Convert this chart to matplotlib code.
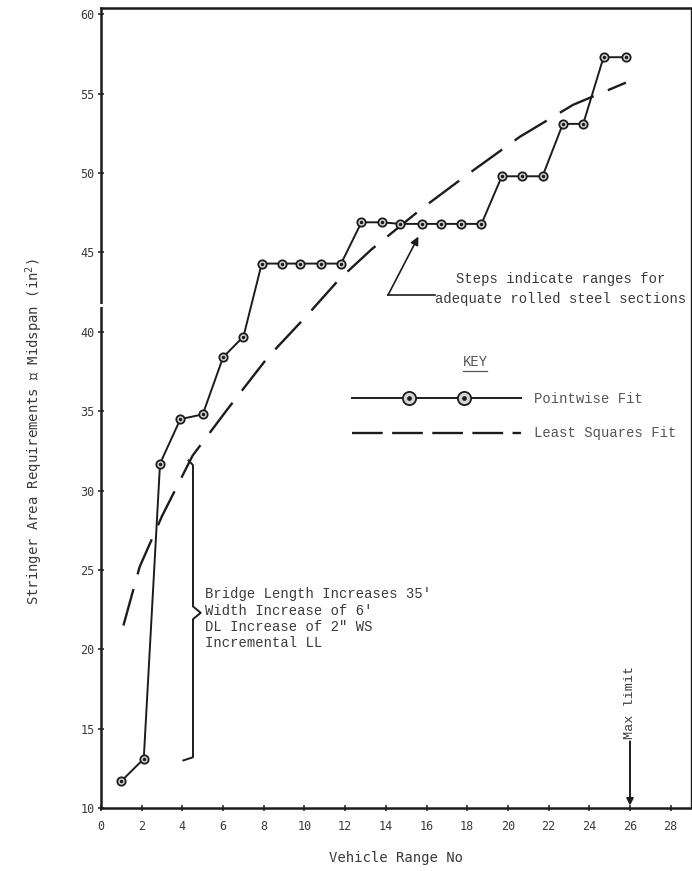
import numpy as np
import matplotlib
matplotlib.use('Agg')
import matplotlib.pyplot as plt
from matplotlib.lines import Line2D
from matplotlib.legend_handler import HandlerLine2D, HandlerTuple

# Pointwise fit: one point per vehicle range
vehicle_range = [1.0, 2.1, 2.9, 3.9, 5.0, 6.0, 7.0, 7.9, 8.9, 9.8, 10.8, 11.8, 12.8,
                 13.8, 14.7, 15.8, 16.7, 17.7, 18.7, 19.7, 20.7, 21.7, 22.7, 23.7, 24.7, 25.8]
stringer_area = [11.7, 13.1, 31.7, 34.5, 34.8, 38.4, 39.7, 44.3, 44.3, 44.3, 44.3, 44.3, 46.9,
                 46.9, 46.8, 46.8, 46.8, 46.8, 46.8, 49.8, 49.8, 49.8, 53.1, 53.1, 57.3, 57.3]

# Least squares fit
fit_range = [1.1, 1.9, 3.0, 4.5, 6.2, 8.2, 10.1, 11.7, 13.3, 15.7, 18.0, 20.6, 23.2, 25.8]
fit_area = [21.5, 25.2, 28.4, 32.2, 35.1, 38.4, 41.0, 43.3, 45.2, 47.7, 49.9, 52.3, 54.3, 55.7]

x_ticks = np.arange(0, 29, 2)
y_ticks = np.arange(10, 61, 5)

INK = '#1c1c1c'
TEXT = '#3a3a3a'
TYPE = ['Liberation Mono', 'DejaVu Sans Mono', 'DejaVu Sans']

plt.rcParams['font.family'] = ['DejaVu Sans Mono', 'DejaVu Sans']

fig = plt.figure(figsize=(6.92, 8.71), dpi=100, facecolor='white')
ax = fig.add_axes([0.146, 0.0723, 0.8526, 0.9185])

ring_style = dict(marker='o', mfc='#d4d4d4', mec=INK, mew=1.3)

ax.plot(vehicle_range, stringer_area, color=INK, lw=1.4, ms=6, zorder=3, **ring_style)
ax.plot(vehicle_range, stringer_area, ls='none', marker='o', ms=1.5, color=INK, zorder=4)
ax.plot(fit_range, fit_area, color=INK, lw=1.7, dashes=(16, 6.5), zorder=2)

ax.set_xlim(0, 29)
ax.set_ylim(10, 60.4)
ax.set_xticks(x_ticks)
ax.set_yticks(y_ticks)
ax.tick_params(direction='inout', length=5, width=1.1, color=INK, labelsize=8.5,
               labelcolor=TEXT)
ax.tick_params(axis='x', pad=6)
ax.tick_params(axis='y', pad=2)
for side in ['left', 'bottom', 'top']:
    ax.spines[side].set_linewidth(1.8)
    ax.spines[side].set_color(INK)
ax.spines['right'].set_linewidth(1.0)
ax.spines['right'].set_color(INK)

# little break in the y axis between 40 and 45
ax.plot([0, 0], [41.55, 41.75], color='white', lw=4, solid_capstyle='butt',
        clip_on=False, zorder=6)

ax.set_xlabel('Vehicle Range No', size=10, color=TEXT)
ax.xaxis.set_label_coords(0.5, -0.054)
ax.set_ylabel('Stringer Area Requirements \u2104 Midspan (in$^2$)', size=10, color=TEXT)
ax.yaxis.set_label_coords(-0.095, 0.47)

# key: full-width line with two rings set in from the ends
key_line = Line2D([], [], color=INK, lw=1.4)
key_ring = Line2D([], [], ls='none', ms=9.5, **ring_style)
key_dot = Line2D([], [], ls='none', marker='o', ms=2.4, color=INK)
key_ls = Line2D([], [], color=INK, lw=1.7, dashes=(13, 4))
inset = HandlerLine2D(numpoints=2, marker_pad=4.1)
ax.legend([(key_line, key_ring, key_dot), key_ls], ['Pointwise Fit', 'Least Squares Fit'],
          handler_map={tuple: HandlerTuple(ndivide=1),
                       Line2D: HandlerLine2D(numpoints=2, marker_pad=0),
                       key_ring: inset, key_dot: inset},
          loc='center left', bbox_to_anchor=(0.425, 0.49), frameon=False,
          handlelength=12.2, handletextpad=0.9, labelspacing=1.5, borderpad=0,
          borderaxespad=0, labelcolor='#555555', prop=dict(family=TYPE, size=10))
ax.text(0.634, 0.5575, 'KEY', transform=ax.transAxes, ha='center', va='center',
        family=TYPE, size=10, color='#555555')
ax.plot([0.613, 0.655], [0.546, 0.546], transform=ax.transAxes, color='#555555', lw=0.9)

# steps note
ax.annotate('', xy=(15.6, 46.0), xytext=(14.1, 42.3),
            arrowprops=dict(arrowstyle='-|>', color=INK, lw=1.2, mutation_scale=12,
                            shrinkA=0, shrinkB=0))
ax.plot([14.1, 16.4], [42.3, 42.3], color=INK, lw=1.2)
ax.text(22.6, 42.7, 'Steps indicate ranges for\nadequate rolled steel sections',
        ha='center', va='center', linespacing=1.55, family=TYPE, size=10, color=TEXT)

# brace for the jump between ranges 2 and 3
brace_x = [4.3, 4.52, 4.52, 4.9, 4.52, 4.52, 4.05]
brace_y = [31.9, 31.6, 22.7, 22.3, 21.9, 13.2, 13.0]
ax.plot(brace_x, brace_y, color=INK, lw=1.4, solid_joinstyle='round')
ax.text(5.1, 23.9, "Bridge Length Increases 35'\nWidth Increase of 6'\n"
        "DL Increase of 2\" WS\nIncremental LL",
        ha='left', va='top', linespacing=1.2, family=TYPE, size=10, color=TEXT)

# max limit
ax.annotate('', xy=(26, 10.15), xytext=(26, 14.2),
            arrowprops=dict(arrowstyle='-|>', color=INK, lw=1.4, mutation_scale=10,
                            shrinkA=0, shrinkB=0))
ax.text(26, 14.35, 'Max limit', rotation=90, ha='center', va='bottom',
        family=TYPE, size=9.7, color=TEXT)

fig.savefig('out.png', dpi=100, facecolor='white')
